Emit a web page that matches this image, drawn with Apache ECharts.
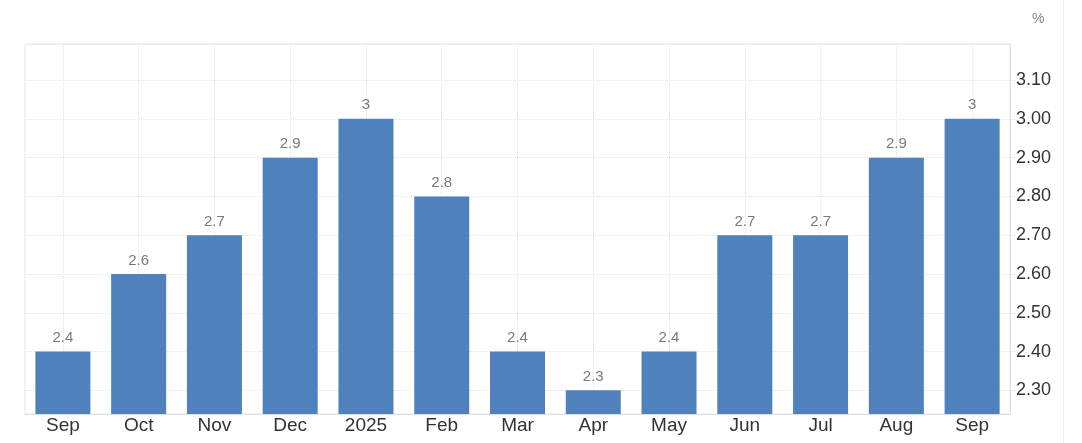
<!DOCTYPE html>
<html>
<head>
<meta charset="utf-8">
<script src="https://cdn.jsdelivr.net/npm/echarts@6/dist/echarts.min.js"></script>
<style>
html,body{margin:0;padding:0;background:#fff;}
#c{width:1082px;height:443px;}
</style>
</head>
<body>
<div id="c"></div>
<script>
var categories = ['Sep','Oct','Nov','Dec','2025','Feb','Mar','Apr','May','Jun','Jul','Aug','Sep'];
var values = [2.4, 2.6, 2.7, 2.9, 3.0, 2.8, 2.4, 2.3, 2.4, 2.7, 2.7, 2.9, 3.0];
var yMin = 2.239, yMax = 3.193;
var unitLabel = '%';

var halfSlots = [];
for (var i = 0; i < categories.length * 2; i++) halfSlots.push(String(i));

var chart = echarts.init(document.getElementById('c'), null, {renderer: 'canvas'});
chart.setOption({
  animation: false,
  backgroundColor: '#fff',
  textStyle: {fontFamily: 'Liberation Sans, Arial, sans-serif'},
  grid: {left: 25, right: 72, top: 44, bottom: 29, show: true, borderColor: '#e6e6e6', borderWidth: 1, containLabel: false},
  xAxis: [{
    type: 'category',
    data: categories,
    boundaryGap: true,
    axisLine: {show: true, lineStyle: {color: '#e0e0e0', width: 1}},
    axisTick: {show: false},
    axisLabel: {color: '#333', fontSize: 19, margin: 2},
    splitLine: {show: false}
  }, {
    type: 'category',
    data: halfSlots,
    boundaryGap: true,
    show: true,
    position: 'bottom',
    axisLine: {show: false},
    axisTick: {show: false},
    axisLabel: {show: false},
    splitLine: {show: true, interval: function (idx) { return idx % 2 === 1; }, lineStyle: {color: '#e4e4e4', type: 'dotted', width: 1}}
  }],
  yAxis: {
    type: 'value',
    position: 'right',
    min: yMin,
    max: yMax,
    splitNumber: 10,
    axisLine: {show: true, lineStyle: {color: '#e0e0e0', width: 1}},
    axisTick: {show: true, length: 5, lineStyle: {color: '#d8d8d8', type: 'dotted', width: 1}},
    axisLabel: {color: '#333', fontSize: 18, margin: 6, showMinLabel: false, showMaxLabel: false,
      formatter: function (v) { return v.toFixed(2); }},
    splitLine: {show: true, lineStyle: {color: '#e4e4e4', type: 'dotted', width: 1}}
  },
  series: [{
    type: 'bar',
    data: values,
    barWidth: 55,
    itemStyle: {color: '#4f81bd'},
    label: {show: true, position: 'top', distance: 6, color: '#7a7a7a', fontSize: 15}
  }],
  graphic: [
    {type: 'text', left: 1032, top: 12, style: {text: unitLabel, fill: '#888', font: '14px Liberation Sans, Arial, sans-serif'}},
    {type: 'line', shape: {x1: 1063.5, y1: 0, x2: 1063.5, y2: 443}, style: {stroke: '#eeeeee', lineWidth: 1}}
  ]
});
</script>
</body>
</html>
